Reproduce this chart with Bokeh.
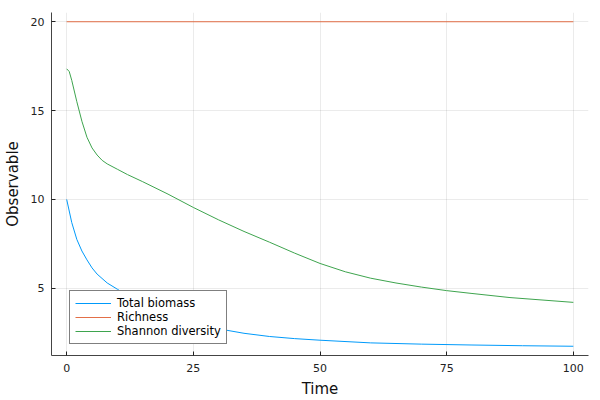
from bokeh.plotting import figure
from bokeh.models import Range1d, Legend, LegendItem, FixedTicker
from bokeh.embed import file_html
from bokeh.resources import INLINE

time_blue = [0, 1, 2, 3, 4, 5, 6, 8, 10, 12, 15, 20, 25, 30, 35, 40, 45, 50, 60, 70, 80, 90, 100]
total_biomass = [10.0, 8.7, 7.75, 7.1, 6.6, 6.15, 5.8, 5.3, 4.95, 4.6, 4.15, 3.5, 3.05, 2.72, 2.47, 2.29, 2.17, 2.08, 1.93, 1.86, 1.81, 1.77, 1.74]

time_rich = [0, 100]
richness = [20, 20]

time_green = [0, 0.5, 1, 2, 3, 4, 5, 6, 7, 8, 10, 12, 15, 20, 25, 30, 35, 40, 45, 50, 55, 60, 65, 70, 75, 80, 87.5, 100]
shannon = [17.35, 17.2, 16.7, 15.5, 14.4, 13.5, 12.9, 12.5, 12.2, 12.0, 11.7, 11.4, 11.0, 10.3, 9.55, 8.85, 8.2, 7.6, 6.98, 6.4, 5.93, 5.57, 5.3, 5.07, 4.87, 4.71, 4.48, 4.21]

x_ticks = [0, 25, 50, 75, 100]
y_ticks = [5, 10, 15, 20]

p = figure(width=600, height=400, output_backend="svg", toolbar_location=None,
           x_range=Range1d(-3, 103), y_range=Range1d(1.22, 20.52),
           min_border_left=0, min_border_right=12, min_border_top=12, min_border_bottom=0)
p.outline_line_color = None
p.background_fill_color = "white"

r1 = p.line(time_blue, total_biomass, line_color="#009AFA", line_width=1)
r2 = p.line(time_rich, richness, line_color="#E36F47", line_width=1)
r3 = p.line(time_green, shannon, line_color="#3EA44E", line_width=1)

p.xaxis.ticker = FixedTicker(ticks=x_ticks)
p.yaxis.ticker = FixedTicker(ticks=y_ticks)
for ax in (p.xaxis[0], p.yaxis[0]):
    ax.axis_line_color = "#444444"
    ax.axis_line_width = 1
    ax.major_tick_in = 4
    ax.major_tick_out = 0
    ax.major_tick_line_color = "#222222"
    ax.minor_tick_line_color = None
    ax.major_label_text_font = "DejaVu Sans"
    ax.major_label_text_font_size = "11px"
    ax.major_label_text_color = "#222222"
    ax.axis_label_text_font = "DejaVu Sans"
    ax.axis_label_text_font_size = "15px"
    ax.axis_label_text_font_style = "normal"
    ax.axis_label_text_color = "#111111"
p.xaxis.axis_label = "Time"
p.yaxis.axis_label = "Observable"
p.xaxis.major_label_standoff = 8
p.yaxis.major_label_standoff = 7
p.xaxis.axis_label_standoff = 5
p.yaxis.axis_label_standoff = 6

p.xgrid.grid_line_color = "black"
p.xgrid.grid_line_alpha = 0.08
p.ygrid.grid_line_color = "black"
p.ygrid.grid_line_alpha = 0.08

legend = Legend(items=[
    LegendItem(label="Total biomass", renderers=[r1]),
    LegendItem(label="Richness", renderers=[r2]),
    LegendItem(label="Shannon diversity", renderers=[r3]),
], location=(18, 11))
legend.border_line_color = "black"
legend.border_line_width = 1
legend.background_fill_color = "white"
legend.background_fill_alpha = 1
legend.label_text_font = "DejaVu Sans"
legend.label_text_font_size = "11.5px"
legend.label_text_color = "black"
legend.label_height = 12
legend.glyph_height = 12
legend.glyph_width = 36
legend.label_standoff = 6
legend.spacing = 0
legend.padding = 5
legend.margin = 0
p.add_layout(legend)

open("out.html", "w").write(file_html(p, INLINE))
